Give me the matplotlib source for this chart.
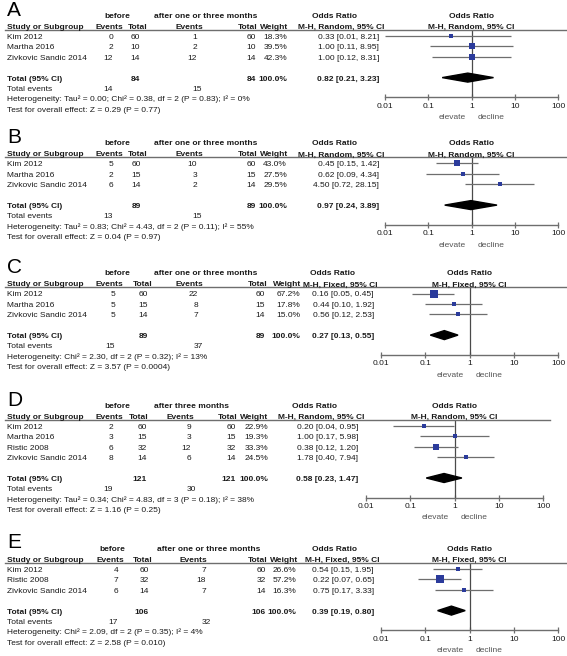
import matplotlib
matplotlib.use("Agg")
import matplotlib.pyplot as plt
from matplotlib.lines import Line2D
from matplotlib.patches import Polygon

plt.rcParams['font.family'] = ['Liberation Sans', 'DejaVu Sans']

W, H = 567, 656

### dati, un gruppo di liste per pannello
studies_A = ["Kim 2012", "Martha 2016", "Zivkovic Sandic 2014"]
ev_before_A = [0, 2, 12]
tot_before_A = [60, 10, 14]
ev_after_A = [1, 2, 12]
tot_after_A = [60, 10, 14]
weight_A = [18.3, 39.5, 42.3]
or_A = [0.33, 1.00, 1.00]
lo_A = [0.01, 0.11, 0.12]
hi_A = [8.21, 8.95, 8.31]
pooled_A = [0.82, 0.21, 3.23]

studies_B = ["Kim 2012", "Martha 2016", "Zivkovic Sandic 2014"]
ev_before_B = [5, 2, 6]
tot_before_B = [60, 15, 14]
ev_after_B = [10, 3, 2]
tot_after_B = [60, 15, 14]
weight_B = [43.0, 27.5, 29.5]
or_B = [0.45, 0.62, 4.50]
lo_B = [0.15, 0.09, 0.72]
hi_B = [1.42, 4.34, 28.15]
pooled_B = [0.97, 0.24, 3.89]

studies_C = ["Kim 2012", "Martha 2016", "Zivkovic Sandic 2014"]
ev_before_C = [5, 5, 5]
tot_before_C = [60, 15, 14]
ev_after_C = [22, 8, 7]
tot_after_C = [60, 15, 14]
weight_C = [67.2, 17.8, 15.0]
or_C = [0.16, 0.44, 0.56]
lo_C = [0.05, 0.10, 0.12]
hi_C = [0.45, 1.92, 2.53]
pooled_C = [0.27, 0.13, 0.55]

studies_D = ["Kim 2012", "Martha 2016", "Ristic 2008", "Zivkovic Sandic 2014"]
ev_before_D = [2, 3, 6, 8]
tot_before_D = [60, 15, 32, 14]
ev_after_D = [9, 3, 12, 6]
tot_after_D = [60, 15, 32, 14]
weight_D = [22.9, 19.3, 33.3, 24.5]
or_D = [0.20, 1.00, 0.38, 1.78]
lo_D = [0.04, 0.17, 0.12, 0.40]
hi_D = [0.95, 5.98, 1.20, 7.94]
pooled_D = [0.58, 0.23, 1.47]

studies_E = ["Kim 2012", "Ristic 2008", "Zivkovic Sandic 2014"]
ev_before_E = [4, 7, 6]
tot_before_E = [60, 32, 14]
ev_after_E = [7, 18, 7]
tot_after_E = [60, 32, 14]
weight_E = [26.6, 57.2, 16.3]
or_E = [0.54, 0.22, 0.75]
lo_E = [0.15, 0.07, 0.17]
hi_E = [1.95, 0.65, 3.33]
pooled_E = [0.39, 0.19, 0.80]

letters = ["A", "B", "C", "D", "E"]
after_titles = ["after one or three months", "after one or three months",
                "after one or three months", "after three months",
                "after one or three months"]
methods = ["M-H, Random, 95% CI", "M-H, Random, 95% CI", "M-H, Fixed, 95% CI",
           "M-H, Random, 95% CI", "M-H, Fixed, 95% CI"]
heterogeneity = [
    "Heterogeneity: Tau² = 0.00; Chi² = 0.38, df = 2 (P = 0.83); I² = 0%",
    "Heterogeneity: Tau² = 0.83; Chi² = 4.43, df = 2 (P = 0.11); I² = 55%",
    "Heterogeneity: Chi² = 2.30, df = 2 (P = 0.32); I² = 13%",
    "Heterogeneity: Tau² = 0.34; Chi² = 4.83, df = 3 (P = 0.18); I² = 38%",
    "Heterogeneity: Chi² = 2.09, df = 2 (P = 0.35); I² = 4%",
]
overall = [
    "Test for overall effect: Z = 0.29 (P = 0.77)",
    "Test for overall effect: Z = 0.04 (P = 0.97)",
    "Test for overall effect: Z = 3.57 (P = 0.0004)",
    "Test for overall effect: Z = 1.16 (P = 0.25)",
    "Test for overall effect: Z = 2.58 (P = 0.010)",
]
tick_vals = [0.01, 0.1, 1, 10, 100]
tick_labels = ["0.01", "0.1", "1", "10", "100"]

### layout (pixel) per pannello
panel_top = [3, 130.5, 260.5, 393, 536]
# colonne: [events prima, totale prima, events dopo, totale dopo, peso]
val_right = [[113, 140, 197, 256, 287], [113, 141, 197, 256, 287],
             [115, 148, 198, 265, 300], [113, 147, 191, 236, 268],
             [118, 149, 206, 266, 296]]
hdr_right = [[123, 147, 203, 257, 288], [123, 147, 203, 257, 288],
             [123, 152, 203, 267, 301], [123, 148, 194, 237, 268],
             [124, 152, 207, 267, 298]]
before_center = [117, 117, 117, 117, 112]
after_left = [154, 154, 154, 154, 157]
or_center = [341, 341, 340, 321, 342]
or_right = [379, 379, 374, 358, 374]
forest_x = [(385, 558), (385, 558), (381, 558), (366, 543), (381, 558)]
line_end = [567, 567, 567, 550, 567]

FS = 6.0
CAP = 0.716 * FS * 100 / 72
ROW = 10.4
TXT = "#1a1a1a"
GREY = "#6e6e6e"
BLUE = "#2b3b9b"

fig = plt.figure(figsize=(W / 100, H / 100), dpi=100)


def fx(x):
    return x / W


def fy(y):
    return 1 - y / H


def txt(x, y, s, ha="left", bold=False, size=FS, color=TXT):
    # y = centro delle maiuscole, in pixel dall'alto
    fig.text(fx(x), fy(y + CAP / 2), s, ha=ha, va="baseline", fontsize=size,
             fontweight="bold" if bold else "normal", color=color)


panels = [
    (studies_A, ev_before_A, tot_before_A, ev_after_A, tot_after_A, weight_A, or_A, lo_A, hi_A, pooled_A),
    (studies_B, ev_before_B, tot_before_B, ev_after_B, tot_after_B, weight_B, or_B, lo_B, hi_B, pooled_B),
    (studies_C, ev_before_C, tot_before_C, ev_after_C, tot_after_C, weight_C, or_C, lo_C, hi_C, pooled_C),
    (studies_D, ev_before_D, tot_before_D, ev_after_D, tot_after_D, weight_D, or_D, lo_D, hi_D, pooled_D),
    (studies_E, ev_before_E, tot_before_E, ev_after_E, tot_after_E, weight_E, or_E, lo_E, hi_E, pooled_E),
]

for p, (studies, evb, totb, eva, tota, wt, orr, lo, hi, pooled) in enumerate(panels):
    y0 = panel_top[p]
    vr = val_right[p]
    hr = hdr_right[p]
    n = len(studies)

    # lettera del pannello
    fig.text(fx(7), fy(y0 + 12.5), letters[p], fontsize=15, color="black", va="baseline")

    # intestazioni
    txt(before_center[p], y0 + 12, "before", ha="center", bold=True)
    txt(after_left[p], y0 + 12, after_titles[p], bold=True)
    txt(or_center[p] - 7, y0 + 12, "Odds Ratio", ha="center", bold=True)
    xc = (forest_x[p][0] + forest_x[p][1]) / 2
    txt(xc, y0 + 12, "Odds Ratio", ha="center", bold=True)

    yh = y0 + 23
    txt(7, yh, "Study or Subgroup", bold=True)
    for x, s in zip(hr, ["Events", "Total", "Events", "Total", "Weight"]):
        txt(x, yh, s, ha="right", bold=True)
    txt(or_center[p], yh, methods[p], ha="center", bold=True)
    txt(xc, yh, methods[p], ha="center", bold=True)

    y_line = y0 + 26.5
    fig.add_artist(Line2D([fx(5), fx(line_end[p])], [fy(y_line)] * 2, color=GREY, lw=1.0))

    # righe degli studi
    rows_y = [y0 + 33 + i * ROW for i in range(n)]
    for i in range(n):
        y = rows_y[i]
        txt(7, y, studies[i])
        for x, v in zip(vr, [evb[i], totb[i], eva[i], tota[i]]):
            txt(x, y, str(v), ha="right")
        txt(vr[4], y, f"{wt[i]:.1f}%", ha="right")
        txt(or_right[p], y, f"{orr[i]:.2f} [{lo[i]:.2f}, {hi[i]:.2f}]", ha="right")

    # totali
    y_tot = y0 + 33 + (n + 1) * ROW
    txt(7, y_tot, "Total (95% CI)", bold=True)
    txt(vr[1], y_tot, str(sum(totb)), ha="right", bold=True)
    txt(vr[3], y_tot, str(sum(tota)), ha="right", bold=True)
    txt(vr[4], y_tot, "100.0%", ha="right", bold=True)
    txt(or_right[p], y_tot, f"{pooled[0]:.2f} [{pooled[1]:.2f}, {pooled[2]:.2f}]", ha="right", bold=True)

    y_ev = y_tot + ROW
    txt(7, y_ev, "Total events")
    txt(vr[0], y_ev, str(sum(evb)), ha="right")
    txt(vr[2] + 5, y_ev, str(sum(eva)), ha="right")
    txt(7, y_ev + ROW, heterogeneity[p])
    txt(7, y_ev + 2 * ROW, overall[p])

    # forest plot
    y_axis = y_tot + 19.5
    x0, x1 = forest_x[p]
    ax = fig.add_axes([fx(x0), fy(y_axis), fx(x1) - fx(x0), (y_axis - y_line) / H])
    ax.set_xscale("log")
    ax.set_xlim(0.01, 100)
    ax.set_ylim(y_axis, y_line)
    ax.patch.set_alpha(0)
    for side in ["top", "left", "right"]:
        ax.spines[side].set_visible(False)
    ax.spines["bottom"].set_color(GREY)
    ax.spines["bottom"].set_linewidth(1.0)
    ax.set_yticks([])
    ax.set_xticks(tick_vals)
    ax.set_xticklabels(tick_labels)
    ax.minorticks_off()
    ax.tick_params(axis="x", direction="inout", length=5, width=0.9, color=GREY,
                   labelsize=FS, labelcolor=TXT, pad=1.5)
    ax.axvline(1, color="#4a4a4a", lw=0.9)

    ax.hlines(rows_y, lo, hi, color=GREY, lw=0.9, clip_on=False)
    for i in range(n):
        side_px = 2.0 + 0.1 * wt[i]
        ax.plot(orr[i], rows_y[i], marker="s", ms=side_px * 0.72, color=BLUE,
                mec=BLUE, mew=0, clip_on=False, zorder=3)

    est, plo, phi = pooled
    ax.add_patch(Polygon([(plo, y_tot), (est, y_tot - 4.5), (phi, y_tot), (est, y_tot + 4.5)],
                         closed=True, color="black", zorder=3))

    x_one = x0 + (x1 - x0) / 2
    txt(x_one - 6, y_axis + 19, "elevate", ha="right", color="#555555")
    txt(x_one + 6, y_axis + 19, "decline", ha="left", color="#555555")

fig.savefig("out.png", dpi=100, facecolor="white")
